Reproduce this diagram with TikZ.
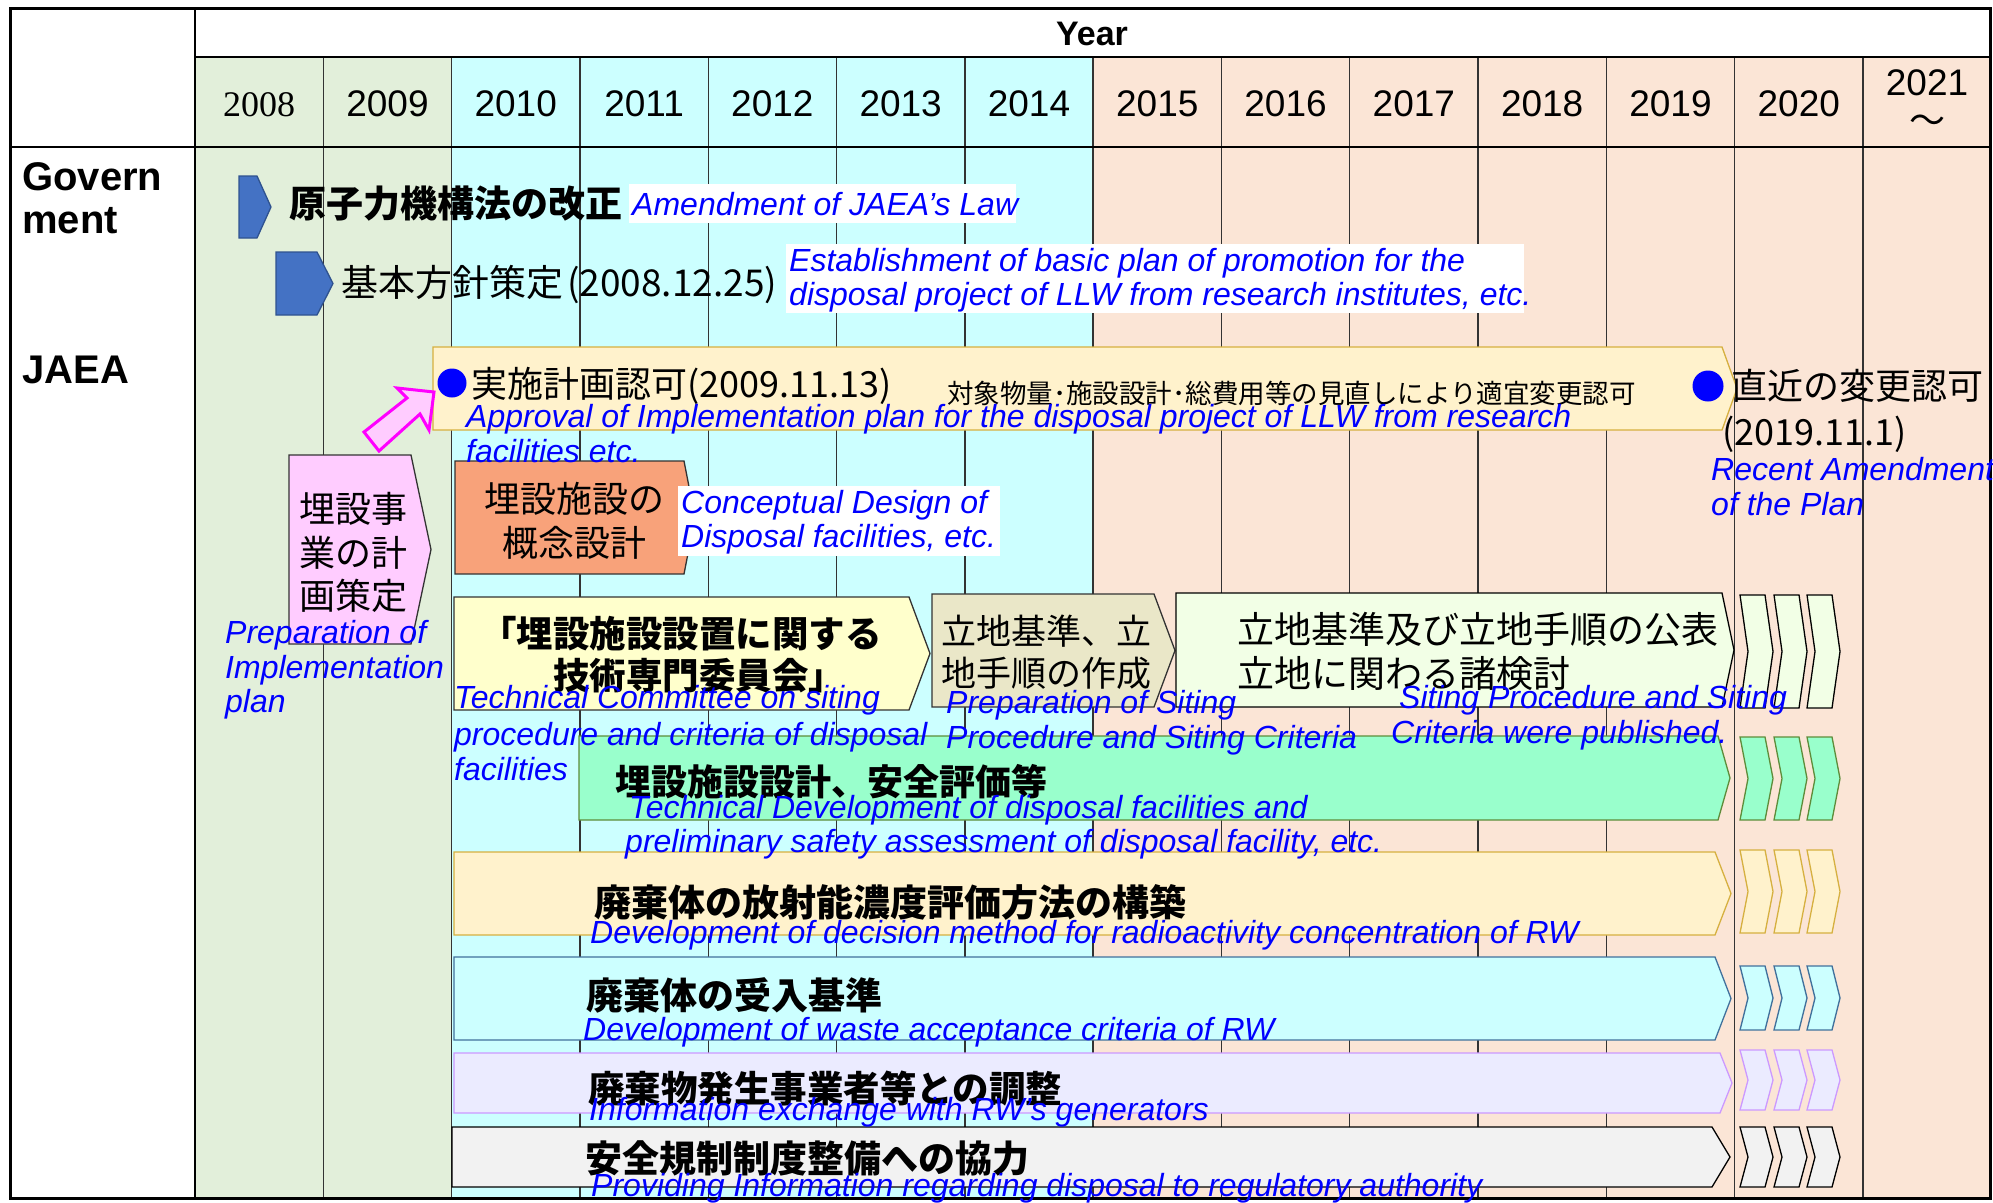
\documentclass[tikz,border=0pt]{standalone}
\usepackage{fontspec}
\setmainfont{Liberation Sans}
\newfontfamily\jp{Noto Sans CJK JP}
\newfontfamily\yrserif{Liberation Serif}
\definecolor{grnbg}{HTML}{E2EFDA}
\definecolor{cyanbg}{HTML}{CCFFFF}
\definecolor{peachbg}{HTML}{FBE5D6}
\definecolor{govblue}{HTML}{4472C4}
\definecolor{govline}{HTML}{2F528F}
\definecolor{cream}{HTML}{FFF2CC}
\definecolor{goldline}{HTML}{D6B040}
\definecolor{pinkbox}{HTML}{FFCCFF}
\definecolor{orangebox}{HTML}{F8A27A}
\definecolor{yellowbox}{HTML}{FFFFCC}
\definecolor{khaki}{HTML}{EAE7C8}
\definecolor{palegreen}{HTML}{F2FFE6}
\definecolor{mint}{HTML}{99FFCC}
\definecolor{mintline}{HTML}{5E8C3A}
\definecolor{cyanline}{HTML}{41719C}
\definecolor{lav}{HTML}{EBEBFF}
\definecolor{lavline}{HTML}{CC99FF}
\definecolor{greybox}{HTML}{F2F2F2}
\definecolor{gridc}{HTML}{333333}
\definecolor{magentaline}{HTML}{FF00FF}
\newcommand\pentshape[6]{\draw[#1] (#2,#3) -- (#4,#3) -- (#5,{(#3+#6)/2}) -- (#4,#6) -- (#2,#6) -- cycle;}
\newcommand\chevrow[3]{\foreach \cx in {1740,1774,1807}{\draw[#1] (\cx,#2) -- ({\cx+25},#2) -- ({\cx+33},{(#2+#3)/2}) -- ({\cx+25},#3) -- (\cx,#3) -- ({\cx+8},{(#2+#3)/2}) -- cycle;}}
\begin{document}
\begin{tikzpicture}[x=1pt,y=-1pt,
  jt/.style={inner sep=0pt,anchor=base west,font=\jp\fontsize{#1}{#1}\selectfont},
  jt/.default=36,
  jb/.style={inner sep=0pt,anchor=base west,font=\jp\bfseries\fontsize{#1}{#1}\selectfont},
  jb/.default=37,
  en/.style={inner sep=0pt,anchor=base west,text=blue,font=\itshape\fontsize{32}{32}\selectfont},
  yr/.style={inner sep=0pt,anchor=base,font=\fontsize{37}{37}\selectfont},
  lab/.style={inner sep=0pt,anchor=base west,font=\bfseries\fontsize{40}{40}\selectfont},
  shp/.style={line width=1.3pt,line join=miter},
  gridline/.style={line width=1.4pt,draw=gridc},
  thick line/.style={line width=2.6pt,draw=black},
  wbox/.style={fill=white,draw=none}]
\useasboundingbox (0,0) rectangle (1993,1202);
\fill[white] (0,0) rectangle (1993,1202);
% column backgrounds
\fill[grnbg] (195,57) rectangle (451.6,1198);
\fill[cyanbg] (451.6,57) rectangle (1093.1,1198);
\fill[peachbg] (1093.1,57) rectangle (1990,1198);
% grid
\foreach \k in {1,...,13} \draw[gridline] ({195+128.3*\k},57) -- ({195+128.3*\k},1198);
\draw[thick line] (195,57) -- (1990,57);
\draw[thick line] (10,147) -- (1990,147);
\draw[thick line] (195,8) -- (195,1198);
\draw[line width=3pt] (10,8) rectangle (1990,1198);
% header
\node[inner sep=0pt,anchor=base,font=\bfseries\fontsize{34}{34}\selectfont] (year) at (1092,45) {Year};
\node[yr,font=\yrserif\fontsize{36}{36}\selectfont] (y2008) at ({195+64.15},116) {2008};
\foreach \k/\yy in {1/2009,2/2010,3/2011,4/2012,5/2013,6/2014,7/2015,8/2016,9/2017,10/2018,11/2019,12/2020}
  \node[yr] (y\yy) at ({195+128.3*\k+64.15},116) {\yy};
\node[yr] (y2021) at ({195+128.3*13+64.15},95) {2021};
\node[inner sep=0pt,font=\jp\fontsize{36}{36}\selectfont] (tilde) at ({195+128.3*13+64.15},124) {～};
% row labels
\node[lab] (gov1) at (22,190) {Govern};
\node[lab] (gov2) at (22,233) {ment};
\node[lab] (jaea) at (22,383) {JAEA};
% government items
\pentshape{shp,fill=govblue,draw=govline}{239}{176}{257}{271}{238}
\node[jb=37] (amendj) at (289,217) {原子力機構法の改正};
\pentshape{shp,fill=govblue,draw=govline}{276}{252}{317}{333}{315}
\node[jt=37] (basicj) at (341,296) {基本方針策定\hspace{4pt}(2008.12.25)};
% implementation plan arrow
\pentshape{shp,fill=cream,draw=goldline}{433}{347}{1722}{1737}{430}
\node[circle,fill=blue,inner sep=0pt,minimum size=29pt] (dot1) at (452,383) {};
\node[jt=36] (implj) at (471,397) {実施計画認可(2009.11.13)};
\node[jt=26.5] (review) at (947,403) {対象物量･施設設計･総費用等の見直しにより適宜変更認可};
\node[circle,fill=blue,inner sep=0pt,minimum size=31pt] (dot2) at (1708,386) {};
\node[jt=36] (recentj) at (1731,399) {直近の変更認可};
\node[jt=36] (recentd) at (1722,445) {(2019.11.1)};
% pink block arrow
\draw[line width=3pt,draw=magentaline,fill=pinkbox,line join=miter]
  (364,432) -- (379,451) -- (420,414) -- (429,430) -- (434,392) -- (397,388) -- (407,398) -- cycle;
% plan preparation
\pentshape{shp,fill=pinkbox,draw=gridc}{289}{455}{411}{431}{644}
\node[jt=36] (plan1) at (299,522) {埋設事};
\node[jt=36] (plan2) at (299,566) {業の計};
\node[jt=36] (plan3) at (299,609) {画策定};
% conceptual design
\pentshape{shp,fill=orangebox,draw=gridc}{455}{461}{684}{695}{574}
\node[jt=36,anchor=base] (conc1) at (574,512) {埋設施設の};
\node[jt=36,anchor=base] (conc2) at (574,556) {概念設計};
% technical committee
\pentshape{shp,fill=yellowbox,draw=gridc}{454}{597}{909}{930}{710}
\node[jb=36.5] (comm1) at (480,647) {「埋設施設設置に関する};
\node[jb=36.5] (comm2) at (553,689) {技術専門委員会」};
% siting criteria preparation
\pentshape{shp,fill=khaki,draw=gridc}{932}{594}{1154}{1175}{707}
\node[jt=35] (sit1) at (941,644) {立地基準、立};
\node[jt=35] (sit2) at (941,686) {地手順の作成};
% siting publication
\pentshape{shp,fill=palegreen,draw=black}{1176}{593}{1722}{1734}{707}
\node[jt=37] (pub1) at (1237,643) {立地基準及び立地手順の公表};
\node[jt=37] (pub2) at (1237,687) {立地に関わる諸検討};
\chevrow{shp,fill=palegreen,draw=black}{595}{708}
% design & safety
\pentshape{shp,fill=mint,draw=mintline}{579}{736}{1718}{1730}{820}
\node[jb=36] (dsg) at (615,795) {埋設施設設計、安全評価等};
\chevrow{shp,fill=mint,draw=mintline}{737}{820}
% radioactivity concentration
\pentshape{shp,fill=cream,draw=goldline}{454}{852}{1715}{1731}{935}
\node[jb=37] (rad) at (594,916) {廃棄体の放射能濃度評価方法の構築};
\chevrow{shp,fill=cream,draw=goldline}{850}{933}
% acceptance criteria
\pentshape{shp,fill=cyanbg,draw=cyanline}{454}{957}{1715}{1731}{1040}
\node[jb=37] (acc) at (586,1009) {廃棄体の受入基準};
\chevrow{shp,fill=cyanbg,draw=cyanline}{966}{1030}
% generators
\pentshape{shp,fill=lav,draw=lavline}{454}{1053}{1720}{1732}{1113}
\node[jb=36.5] (gen) at (588,1102) {廃棄物発生事業者等との調整};
\chevrow{shp,fill=lav,draw=lavline}{1050}{1110}
% regulation
\pentshape{shp,fill=greybox,draw=black}{452}{1127}{1712}{1730}{1187}
\node[jb=37] (reg) at (585,1172) {安全規制制度整備への協力};
\chevrow{shp,fill=greybox,draw=black}{1127}{1187}
% white boxes for English notes
\fill[wbox] (629,184) rectangle (1016,223);
\fill[wbox] (786,244) rectangle (1524,313);
\fill[wbox] (678,486) rectangle (1000,556);
% English notes
\node[en] (amende) at (632,215) {Amendment of JAEA’s Law};
\node[en] (basice1) at (789,271) {Establishment of basic plan of promotion for the};
\node[en] (basice2) at (789,305) {disposal project of LLW from research institutes, etc.};
\node[en] (imple1) at (466,427) {Approval of Implementation plan for the disposal project of LLW from research};
\node[en] (imple2) at (466,462) {facilities etc.};
\node[en] (rece1) at (1711,480) {Recent Amendment};
\node[en] (rece2) at (1711,515) {of the Plan};
\node[en] (plane1) at (225,643) {Preparation of};
\node[en] (plane2) at (225,678) {Implementation};
\node[en] (plane3) at (225,712) {plan};
\node[en] (conce1) at (681,513) {Conceptual Design of};
\node[en] (conce2) at (681,547) {Disposal facilities, etc.};
\node[en] (comme1) at (454,708) {Technical Committee on siting};
\node[en] (comme2) at (454,745) {procedure and criteria of disposal};
\node[en] (comme3) at (454,780) {facilities};
\node[en] (site1) at (946,713) {Preparation of Siting};
\node[en] (site2) at (946,748) {Procedure and Siting Criteria};
\node[en] (pube1) at (1399,708) {Siting Procedure and Siting};
\node[en] (pube2) at (1391,743) {Criteria were published.};
\node[en] (dsge1) at (629,818) {Technical Development of disposal facilities and};
\node[en] (dsge2) at (625,852) {preliminary safety assessment of disposal facility, etc.};
\node[en] (rade) at (590,943) {Development of decision method for radioactivity concentration of RW};
\node[en] (acce) at (583,1040) {Development of waste acceptance criteria of RW};
\node[en] (gene) at (589,1120) {Information exchange with RW’s generators};
\node[en] (rege) at (591,1196) {Providing Information regarding disposal to regulatory authority};
\end{tikzpicture}
\end{document}
